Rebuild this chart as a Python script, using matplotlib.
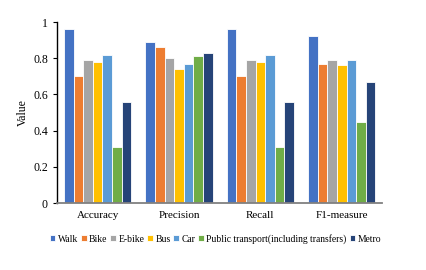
import numpy as np
from matplotlib import pyplot as plt

plt.rcParams['font.family'] = ['Liberation Serif', 'DejaVu Serif']

metrics = ['Accuracy', 'Precision', 'Recall', 'F1-measure']
modes = ['Walk', 'Bike', 'E-bike', 'Bus', 'Car',
         'Public transport(including transfers)', 'Metro']
colors = ['#4472C4', '#ED7D31', '#A5A5A5', '#FFC000', '#5B9BD5', '#70AD47', '#264478']

walk = [0.96, 0.89, 0.96, 0.92]
bike = [0.70, 0.86, 0.70, 0.77]
ebike = [0.79, 0.80, 0.79, 0.79]
bus = [0.78, 0.74, 0.78, 0.76]
car = [0.82, 0.77, 0.82, 0.79]
public = [0.31, 0.81, 0.31, 0.45]
metro = [0.56, 0.83, 0.56, 0.67]
series = [walk, bike, ebike, bus, car, public, metro]

fig = plt.figure(figsize=(4.27, 2.7), dpi=100)
ax = fig.add_axes([0.1335, 0.248, 0.762, 0.6705])

x = np.arange(len(metrics))
w = 0.83 / len(series)
for i, (vals, name, c) in enumerate(zip(series, modes, colors)):
    ax.bar(x + (i - 3) * w, vals, w, color=c, label=name,
           edgecolor='white', linewidth=0.6)

ax.set_xlim(-0.5, 3.5)
ax.set_ylim(0, 1)
ax.set_yticks([0, 0.2, 0.4, 0.6, 0.8, 1])
ax.set_yticklabels(['0', '0.2', '0.4', '0.6', '0.8', '1'])
ax.set_xticks(x)
ax.set_xticklabels(metrics)
ax.tick_params(axis='x', length=0, labelsize=8, pad=6)
ax.tick_params(axis='y', labelsize=8.5, length=3, direction='out')
ax.set_ylabel('Value', fontsize=8.5, labelpad=3)

ax.spines['top'].set_visible(False)
ax.spines['right'].set_visible(False)
ax.spines['bottom'].set_color('#808080')
ax.spines['bottom'].set_linewidth(1.3)
ax.spines['left'].set_linewidth(1.0)

ax.legend(loc='upper center', bbox_to_anchor=(0.487, -0.15), ncol=7,
          frameon=False, fontsize=6.9, handlelength=0.6, handleheight=0.6,
          handletextpad=0.25, columnspacing=0.3, borderaxespad=0)

fig.savefig('out.png', dpi=100)
